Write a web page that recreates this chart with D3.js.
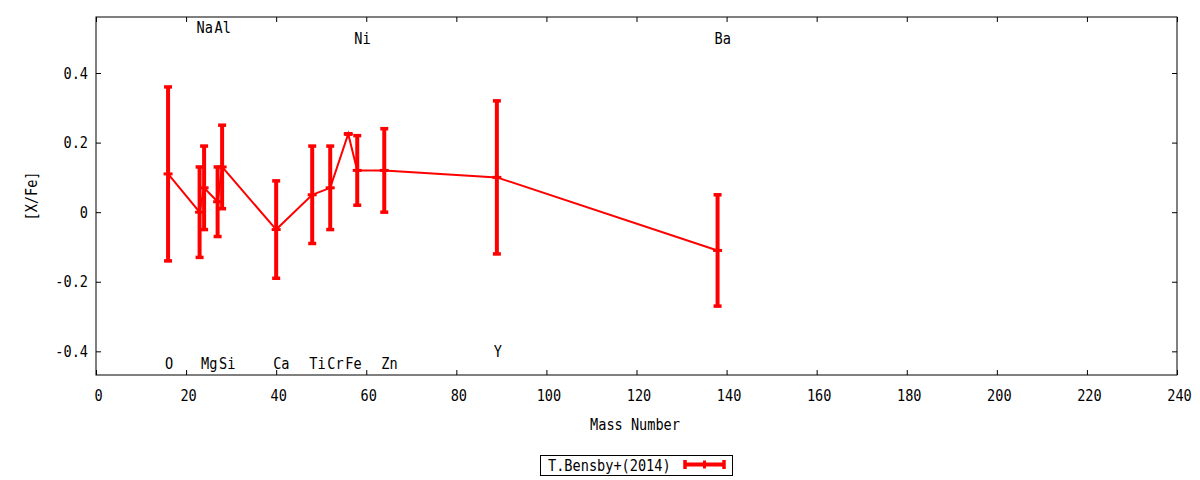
<!DOCTYPE html>
<html>
<head>
<meta charset="utf-8">
<script src="https://cdn.jsdelivr.net/npm/d3@7"></script>
<style>
  body { margin: 0; background: #fff; }
  svg text { font-family: "DejaVu Sans Mono", monospace; font-size: 16px; fill: #000; }
</style>
</head>
<body>
<svg id="chart" width="1200" height="480"></svg>
<script>
// Data

var elements = ["O", "Na", "Mg", "Al", "Si", "Ca", "Ti", "Cr", "Fe", "Ni", "Zn", "Y", "Ba"];
var massNumbers = [16, 23, 24, 27, 28, 40, 48, 52, 56, 58, 64, 89, 138];
var xFe = [0.11, 0.00, 0.07, 0.03, 0.13, -0.05, 0.05, 0.07, 0.225, 0.12, 0.12, 0.10, -0.11];
var xFeErr = [0.25, 0.13, 0.12, 0.10, 0.12, 0.14, 0.14, 0.12, 0.0, 0.10, 0.12, 0.22, 0.16];
// label row for each element (data units on the y axis)
var labelLevel = [-0.435, 0.53, -0.435, 0.53, -0.435, -0.435, -0.435, -0.435, -0.435, 0.5, -0.435, -0.4, 0.5];

var xTicks = [0, 20, 40, 60, 80, 100, 120, 140, 160, 180, 200, 220, 240];
var yTicks = [-0.4, -0.2, 0, 0.2, 0.4];
var seriesName = "T.Bensby+(2014)";

// Layout (plotTop, not top: window.top is read only)

var plotLeft = 96, plotRight = 1177, plotTop = 17, plotBottom = 375;
var red = "#ff0000";
var squeeze = 0.85; // gnuplot font is narrower than DejaVu Sans Mono

var svg = d3.select("#chart");

var x = d3.scaleLinear().domain([0, 240]).range([plotLeft, plotRight]);
var y = d3.scaleLinear().domain([-0.468, 0.561]).range([plotBottom, plotTop]);

var fmtY = function (d) { return d === 0 ? "0" : d3.format(".1f")(d).replace("−", "-"); };

// place a squeezed text at px, py
function putText(g, px, py, str, anchor) {
    return g.append("text")
        .attr("transform", "translate(" + px + "," + py + ") scale(" + squeeze + ",1)")
        .attr("text-anchor", anchor || "start")
        .text(str);
}

// axes with inward ticks, mirrored on top and right

var xAxisG = svg.append("g")
    .attr("transform", "translate(0," + plotBottom + ")")
    .call(d3.axisBottom(x).tickValues(xTicks).tickSize(-5).tickFormat(d3.format("d")));

svg.append("g")
    .attr("transform", "translate(0," + plotTop + ")")
    .call(d3.axisTop(x).tickValues(xTicks).tickSize(-5).tickFormat(""));

var yAxisG = svg.append("g")
    .attr("transform", "translate(" + plotLeft + ",0)")
    .call(d3.axisLeft(y).tickValues(yTicks).tickSize(-5).tickFormat(fmtY));

svg.append("g")
    .attr("transform", "translate(" + plotRight + ",0)")
    .call(d3.axisRight(y).tickValues(yTicks).tickSize(-5).tickFormat(""));

svg.selectAll(".domain").remove();
svg.selectAll(".tick line").attr("stroke", "#000").attr("stroke-width", 1);
svg.selectAll(".tick text")
    .attr("fill", "#000")
    .style("font-family", "DejaVu Sans Mono")
    .style("font-size", "16px");
xAxisG.selectAll(".tick text")
    .attr("transform", "translate(2,15) scale(" + squeeze + ",1)")
    .attr("y", 0).attr("dy", "0.71em");
yAxisG.selectAll(".tick text")
    .attr("transform", "translate(-8,0) scale(" + squeeze + ",1)")
    .attr("x", 0);

svg.append("rect")
    .attr("x", plotLeft).attr("y", plotTop)
    .attr("width", plotRight - plotLeft).attr("height", plotBottom - plotTop)
    .attr("fill", "none").attr("stroke", "#000").attr("stroke-width", 1);

// axis titles

putText(svg, 635, 430, "Mass Number", "middle");

svg.append("text")
    .attr("transform", "translate(37,196) rotate(-90) scale(" + squeeze + ",1)")
    .attr("text-anchor", "middle")
    .text("[X/Fe]");

// element labels

var points = elements.map(function (el, i) {
    return { el: el, m: massNumbers[i], v: xFe[i], e: xFeErr[i], lv: labelLevel[i] };
});

var labelG = svg.append("g");
points.forEach(function (d) {
    putText(labelG, x(d.m) - 3, y(d.lv), d.el).attr("dy", "0.35em");
});

// connecting line

var line = d3.line()
    .x(function (d) { return x(d.m); })
    .y(function (d) { return y(d.v); });

svg.append("path")
    .datum(points)
    .attr("d", line)
    .attr("fill", "none")
    .attr("stroke", red)
    .attr("stroke-width", 2);

// error bars

var bars = svg.append("g").selectAll("g")
    .data(points)
    .enter()
    .append("g");

bars.append("line")
    .attr("x1", function (d) { return x(d.m); })
    .attr("x2", function (d) { return x(d.m); })
    .attr("y1", function (d) { return y(d.v - d.e); })
    .attr("y2", function (d) { return y(d.v + d.e); })
    .attr("stroke", red).attr("stroke-width", 4);

[-1, 1].forEach(function (s) {
    bars.append("line")
        .attr("x1", function (d) { return x(d.m) - 4; })
        .attr("x2", function (d) { return x(d.m) + 4; })
        .attr("y1", function (d) { return y(d.v + s * d.e); })
        .attr("y2", function (d) { return y(d.v + s * d.e); })
        .attr("stroke", red).attr("stroke-width", 3.5);
});

bars.append("line")
    .attr("x1", function (d) { return x(d.m) - 4.5; })
    .attr("x2", function (d) { return x(d.m) + 4.5; })
    .attr("y1", function (d) { return y(d.v); })
    .attr("y2", function (d) { return y(d.v); })
    .attr("stroke", red).attr("stroke-width", 3);

// legend

var legend = svg.append("g");
legend.append("rect")
    .attr("x", 540.5).attr("y", 455.5).attr("width", 192).attr("height", 20)
    .attr("fill", "#fff").attr("stroke", "#000").attr("stroke-width", 1);
putText(legend, 548, 465.5, seriesName).attr("dy", "0.35em");
legend.append("line")
    .attr("x1", 685).attr("x2", 724).attr("y1", 464.5).attr("y2", 464.5)
    .attr("stroke", red).attr("stroke-width", 4);
[685, 724].forEach(function (lx) {
    legend.append("line")
        .attr("x1", lx).attr("x2", lx).attr("y1", 460).attr("y2", 469)
        .attr("stroke", red).attr("stroke-width", 3.5);
});
legend.append("line")
    .attr("x1", 704.5).attr("x2", 704.5).attr("y1", 460.5).attr("y2", 468.5)
    .attr("stroke", red).attr("stroke-width", 3);
</script>
</body>
</html>
